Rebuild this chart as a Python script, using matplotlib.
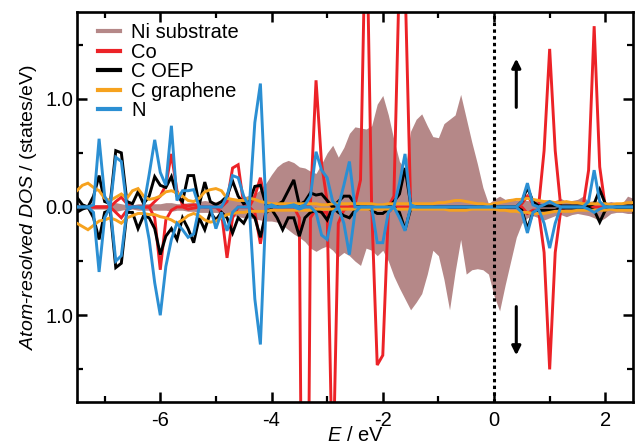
import numpy as np
import matplotlib
matplotlib.use("Agg")
import matplotlib.pyplot as plt
from matplotlib.lines import Line2D
from matplotlib.ticker import FixedLocator, MultipleLocator, FuncFormatter

plt.rcParams['font.family'] = ['Liberation Sans', 'DejaVu Sans']
plt.rcParams['mathtext.fontset'] = 'custom'
plt.rcParams['mathtext.it'] = 'Liberation Sans:italic'
plt.rcParams['mathtext.rm'] = 'Liberation Sans'
plt.rcParams['axes.unicode_minus'] = False

# energy grid (eV), 0.1 eV sampling from -7.5 to 2.5
energy = np.round(np.arange(-75, 26) / 10.0, 1)

ni_up = [
    0.03, 0.02, 0.02, 0.02, 0.02, 0.02, 0.03, 0.04, 0.03, 0.02,
    0.02, 0.03, 0.03, 0.03, 0.03, 0.03, 0.04, 0.04, 0.03, 0.03,
    0.04, 0.04, 0.05, 0.06, 0.05, 0.05, 0.06, 0.07, 0.08, 0.08,
    0.09, 0.11, 0.12, 0.16, 0.22, 0.30, 0.37, 0.41, 0.43, 0.41,
    0.37, 0.36, 0.33, 0.31, 0.40, 0.50, 0.57, 0.46, 0.55, 0.68,
    0.74, 0.73, 0.72, 0.75, 0.95, 1.03, 0.85, 0.62, 0.42, 0.35,
    0.70, 0.81, 0.86, 0.75, 0.65, 0.64, 0.77, 0.81, 0.85, 1.04,
    0.82, 0.60, 0.40, 0.18, 0.03, 0.07, 0.10, 0.07, 0.08, 0.06,
    0.07, 0.06, 0.05, 0.07, 0.06, 0.04, 0.06, 0.08, 0.05, 0.06,
    0.07, 0.10, 0.05, 0.06, 0.05, 0.04, 0.05, 0.04, 0.03, 0.10,
    0.08]
ni_dn = [
    -0.03, -0.02, -0.02, -0.02, -0.02, -0.02, -0.03, -0.04, -0.03, -0.02,
    -0.02, -0.03, -0.03, -0.03, -0.03, -0.03, -0.03, -0.04, -0.03, -0.03,
    -0.04, -0.04, -0.05, -0.05, -0.05, -0.05, -0.06, -0.07, -0.08, -0.09,
    -0.10, -0.10, -0.11, -0.12, -0.13, -0.13, -0.14, -0.17, -0.21, -0.25,
    -0.28, -0.32, -0.38, -0.41, -0.38, -0.36, -0.40, -0.46, -0.42, -0.45,
    -0.50, -0.54, -0.38, -0.40, -0.45, -0.40, -0.50, -0.64, -0.75, -0.85,
    -0.95, -0.88, -0.80, -0.62, -0.40, -0.45, -0.67, -0.95, -0.60, -0.30,
    -0.62, -0.58, -0.57, -0.58, -0.62, -0.82, -0.96, -0.72, -0.50, -0.28,
    -0.15, -0.10, -0.08, -0.10, -0.12, -0.10, -0.08, -0.07, -0.09, -0.07,
    -0.06, -0.07, -0.08, -0.10, -0.13, -0.10, -0.06, -0.05, -0.05, -0.06,
    -0.06]

co_up = [
    0, 0, 0, 0, 0, 0, 0, 0.05, 0.09, 0.03,
    0, 0, 0, 0, 0.05, 0.10, 0.20, 0.49, 0.15, 0.02,
    0.01, 0.02, 0.01, 0, 0, 0, 0, 0.05, 0.36, 0.39,
    0.02, 0, 0.10, 0.27, 0.02, 0, 0, 0, 0, 0,
    0, 0, 0.03, 1.17, 0.40, 0.05, 0, 0, 0, 0,
    0.02, 0.25, 2.90, 0, 0, 0, 0, 0.10, 2.20, 2.10,
    0.03, 0, 0, 0, 0, 0, 0, 0, 0, 0,
    0, 0, 0, 0, 0, 0, 0, 0, 0, 0,
    0.03, 0.10, 0.03, 0, 0.52, 1.46, 0.52, 0, 0, 0,
    0, 0, 0.34, 1.67, 0.37, 0, 0, 0, 0, 0,
    0]
co_dn = [
    0, 0, 0, 0, 0, 0, 0, -0.05, -0.10, -0.03,
    0, 0, 0, 0, -0.10, -0.58, -0.12, -0.03, 0, 0,
    -0.02, -0.01, 0, 0, 0, 0, -0.05, -0.47, -0.10, 0,
    0, 0, -0.05, -0.34, -0.03, 0, 0, 0, 0, 0,
    -0.10, -7.0, -0.10, -0.02, -0.05, -0.05, -2.60, -0.15, -0.03, 0,
    0, 0, 0, 0, -1.46, -1.37, -0.05, 0, 0, 0,
    0, 0, 0, 0, 0, 0, 0, 0, 0, 0,
    0, 0, 0, 0, 0, 0, 0, 0, 0, 0,
    0, -0.06, -0.03, -0.03, -0.42, -1.50, -0.42, -0.03, 0, 0,
    0, 0, 0, 0, 0, 0, 0, 0, 0, 0,
    0]

coep_up = [
    0.09, 0.02, 0.00, 0.10, 0.29, 0.05, 0.03, 0.52, 0.50, 0.05,
    0.03, 0.14, 0.03, 0.10, 0.28, 0.20, 0.18, 0.28, 0.10, 0.05,
    0.29, 0.29, 0.02, 0.23, 0.05, 0.02, 0.05, 0.10, 0.24, 0.10,
    0.03, 0.05, 0.19, 0.20, 0.02, 0.02, 0.02, 0.05, 0.15, 0.25,
    0.02, 0.05, 0.13, 0.11, 0.12, 0.06, 0.00, 0.05, 0.10, 0.10,
    0.03, 0.00, 0.00, 0.00, 0.00, 0.00, 0.00, 0.05, 0.12, 0.36,
    0.03, 0, 0, 0, 0, 0, 0, 0, 0, 0,
    0, 0, 0, 0, 0, 0, 0, 0, 0, 0,
    0.05, 0.18, 0.05, 0.01, 0.01, 0.01, 0.01, 0.01, 0.01, 0.01,
    0.01, 0.01, 0.01, 0.03, 0.16, 0.03, 0.01, 0.01, 0.01, 0.01,
    0.01]
coep_dn = [
    -0.05, -0.02, 0.00, -0.10, -0.30, -0.05, -0.03, -0.56, -0.52, -0.05,
    -0.05, -0.20, -0.08, -0.10, -0.20, -0.44, -0.27, -0.20, -0.30, -0.10,
    -0.20, -0.33, -0.10, -0.21, -0.05, -0.12, -0.05, -0.10, -0.24, -0.10,
    -0.15, -0.05, -0.10, -0.28, -0.05, -0.02, -0.10, -0.21, -0.10, -0.10,
    -0.27, -0.10, -0.05, -0.03, -0.05, -0.12, 0.00, -0.05, -0.08, -0.10,
    -0.03, 0.00, 0.00, -0.03, -0.06, -0.06, -0.02, 0.00, -0.05, -0.21,
    -0.02, 0, 0, 0, 0, 0, 0, 0, 0, 0,
    0, 0, 0, 0, 0, 0, 0, 0, 0, 0,
    -0.03, -0.20, -0.05, -0.03, -0.03, -0.03, -0.03, -0.01, -0.01, -0.01,
    -0.01, -0.01, -0.01, -0.03, -0.14, -0.03, -0.01, -0.01, -0.01, -0.01,
    -0.01]

gr_up = [
    0.15, 0.20, 0.22, 0.18, 0.15, 0.08, 0.06, 0.09, 0.12, 0.08,
    0.15, 0.17, 0.10, 0.07, 0.08, 0.10, 0.14, 0.15, 0.13, 0.10,
    0.06, 0.05, 0.08, 0.14, 0.16, 0.17, 0.15, 0.08, 0.07, 0.06,
    0.06, 0.08, 0.07, 0.05, 0.04, 0.03, 0.03, 0.03, 0.03, 0.03,
    0.03, 0.03, 0.03, 0.03, 0.02, 0.02, 0.03, 0.03, 0.03, 0.03,
    0.03, 0.03, 0.03, 0.03, 0.02, 0.02, 0.03, 0.03, 0.03, 0.03,
    0.03, 0.03, 0.03, 0.03, 0.03, 0.04, 0.04, 0.05, 0.06, 0.06,
    0.05, 0.04, 0.03, 0.03, 0.02, 0.03, 0.04, 0.05, 0.06, 0.07,
    0.07, 0.08, 0.07, 0.06, 0.05, 0.05, 0.04, 0.04, 0.05, 0.04,
    0.04, 0.03, 0.03, 0.03, 0.03, 0.03, 0.02, 0.03, 0.03, 0.04,
    0.04]
gr_dn = [
    -0.15, -0.18, -0.21, -0.17, -0.13, -0.12, -0.10, -0.12, -0.15, -0.10,
    -0.08, -0.06, -0.06, -0.07, -0.07, -0.09, -0.10, -0.12, -0.15, -0.12,
    -0.08, -0.06, -0.08, -0.12, -0.14, -0.13, -0.10, -0.07, -0.06, -0.05,
    -0.05, -0.04, -0.04, -0.04, -0.04, -0.03, -0.03, -0.03, -0.03, -0.03,
    -0.03, -0.03, -0.03, -0.02, -0.02, -0.02, -0.02, -0.02, -0.02, -0.02,
    -0.02, -0.02, -0.02, -0.02, -0.02, -0.02, -0.02, -0.02, -0.02, -0.02,
    -0.02, -0.02, -0.02, -0.02, -0.02, -0.02, -0.02, -0.03, -0.03, -0.03,
    -0.03, -0.02, -0.02, -0.02, -0.02, -0.02, -0.03, -0.03, -0.04, -0.04,
    -0.05, -0.05, -0.06, -0.06, -0.06, -0.05, -0.04, -0.04, -0.04, -0.04,
    -0.03, -0.03, -0.03, -0.03, -0.03, -0.03, -0.02, -0.03, -0.03, -0.03,
    -0.03]

n_up = [
    0.00, 0.00, 0.00, 0.02, 0.63, 0.10, 0.00, 0.46, 0.42, 0.00,
    0.00, 0.00, 0.00, 0.30, 0.62, 0.32, 0.20, 0.75, 0.06, 0.15,
    0.15, 0.16, 0.00, 0.00, 0.00, 0.00, 0.00, 0.10, 0.29, 0.27,
    0.10, 0.00, 0.78, 1.14, 0.00, 0.02, 0.00, 0.00, 0.01, 0.02,
    0.00, 0.02, 0.10, 0.51, 0.34, 0.27, 0.05, 0.00, 0.20, 0.42,
    0.00, 0.00, 0.00, 0.00, 0.00, 0.00, 0.00, 0.00, 0.22, 0.49,
    0.02, 0, 0, 0, 0, 0, 0, 0, 0, 0,
    0, 0, 0, 0, 0, 0, 0, 0, 0, 0,
    0.05, 0.22, 0.02, 0.00, 0.02, 0.05, 0.02, 0.00, 0.00, 0.00,
    0.00, 0.00, 0.05, 0.34, 0.05, 0.00, 0.00, 0.00, 0.00, 0.00,
    0.00]
n_dn = [
    0.00, 0.00, 0.00, -0.05, -0.60, -0.10, 0.00, -0.50, -0.45, -0.03,
    0.00, 0.00, -0.02, -0.30, -0.70, -1.00, -0.55, -0.30, -0.15, -0.21,
    -0.28, -0.25, 0.00, 0.00, 0.00, -0.20, -0.05, -0.22, -0.05, 0.00,
    0.00, 0.00, -0.85, -1.27, 0.00, 0.00, 0.00, 0.00, 0.00, 0.00,
    -0.02, 0.00, 0.00, -0.05, -0.26, -0.30, -0.05, 0.00, -0.15, -0.44,
    -0.05, 0.00, 0.00, 0.00, -0.33, -0.33, -0.05, 0.00, -0.10, -0.22,
    0.00, 0, 0, 0, 0, 0, 0, 0, 0, 0,
    0, 0, 0, 0, 0, 0, 0, 0, 0, 0,
    -0.05, -0.24, -0.05, -0.02, -0.15, -0.38, -0.15, 0.00, 0.00, 0.00,
    0.00, 0.00, -0.02, -0.05, -0.02, 0.00, 0.00, 0.00, 0.00, 0.00,
    0.00]

labels = ["Ni substrate", "Co", "C OEP", "C graphene", "N"]
c_ni, c_co, c_oep, c_gr, c_n = "#b58888", "#ec2227", "#000000", "#f6a21e", "#2b8fd3"

fig = plt.figure(figsize=(6.35, 4.48), dpi=100)
ax = fig.add_axes([0.121, 0.103, 0.876, 0.870])

ax.fill_between(energy, ni_dn, ni_up, color=c_ni, lw=0, zorder=1)
lw = 2.1
for up, dn, col, z in [(co_up, co_dn, c_co, 2), (coep_up, coep_dn, c_oep, 3),
                       (gr_up, gr_dn, c_gr, 4), (n_up, n_dn, c_n, 5)]:
    ax.plot(energy, up, color=col, lw=lw, zorder=z, solid_joinstyle='miter')
    ax.plot(energy, dn, color=col, lw=lw, zorder=z, solid_joinstyle='miter')

ax.axvline(0, color='k', lw=2.2, ls=(0, (1.1, 1.1)), zorder=6)

ax.annotate('', xy=(0.4, 1.37), xytext=(0.4, 0.92),
            arrowprops=dict(arrowstyle='-|>', color='k', lw=2.2, mutation_scale=13,
                            shrinkA=0, shrinkB=0))
ax.annotate('', xy=(0.4, -1.37), xytext=(0.4, -0.92),
            arrowprops=dict(arrowstyle='-|>', color='k', lw=2.2, mutation_scale=13,
                            shrinkA=0, shrinkB=0))

ax.set_xlim(-7.5, 2.5)
ax.set_ylim(-1.8, 1.8)
ax.xaxis.set_major_locator(FixedLocator([-6, -4, -2, 0, 2]))
ax.xaxis.set_minor_locator(MultipleLocator(1))
ax.yaxis.set_major_locator(FixedLocator([-1.0, 0.0, 1.0]))
ax.yaxis.set_minor_locator(MultipleLocator(0.5))
ax.yaxis.set_major_formatter(FuncFormatter(lambda v, p: "%.1f" % abs(v)))
ax.xaxis.set_major_formatter(FuncFormatter(lambda v, p: "%d" % v))

for s in ax.spines.values():
    s.set_linewidth(1.9)
ax.tick_params(which='both', direction='in', top=True, right=True, labelsize=14.5)
ax.tick_params(which='major', length=7, width=1.8)
ax.tick_params(which='minor', length=4, width=1.6)
ax.tick_params(axis='x', which='major', pad=6.5)
ax.tick_params(axis='y', which='major', pad=2.5)

ax.set_xlabel(r'$\mathit{E}$ / eV', fontsize=14.5, labelpad=-2.5)
ax.set_ylabel(r'$\mathit{Atom}$-$\mathit{resolved\ DOS}$ / (states/eV)', fontsize=14, labelpad=5)

handles = [Line2D([], [], color=c, lw=3) for c in [c_ni, c_co, c_oep, c_gr, c_n]]
ax.legend(handles, labels, loc='upper left', bbox_to_anchor=(0.038, 0.972),
          frameon=False, fontsize=14.5, handlelength=1.1, handletextpad=0.55,
          labelspacing=0.03, borderpad=0.0, borderaxespad=0.0)

fig.savefig("out.png", dpi=100)
